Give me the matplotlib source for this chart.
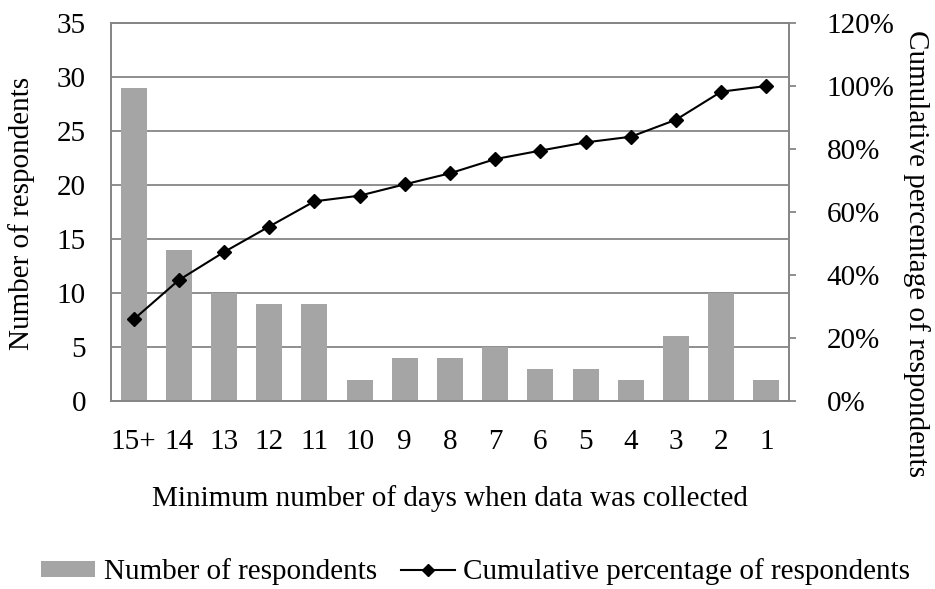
import numpy as np
import matplotlib.pyplot as plt
from matplotlib.ticker import MultipleLocator, PercentFormatter

plt.rcParams['font.family'] = ['Liberation Serif', 'DejaVu Serif']

days = ['15+', '14', '13', '12', '11', '10', '9', '8', '7', '6', '5', '4', '3', '2', '1']
respondents = [29, 14, 10, 9, 9, 2, 4, 4, 5, 3, 3, 2, 6, 10, 2]
cum_pct = [25.9, 38.4, 47.3, 55.4, 63.4, 65.2, 68.8, 72.3, 76.8, 79.5, 82.1, 83.9, 89.3, 98.2, 100.0]

grid_col = '#868686'
bar_col = '#A5A5A5'
fs = 21

fig = plt.figure(figsize=(9.35, 5.89), dpi=100)
ax = fig.add_axes([0.1187, 0.319, 0.7252, 0.642])
x = np.arange(len(days))

ax.bar(x, respondents, width=0.575, color=bar_col, zorder=2, label='Number of respondents')
ax.set_ylim(0, 35)
ax.set_xlim(-0.5, len(days) - 0.5)
ax.yaxis.set_major_locator(MultipleLocator(5))
ax.grid(axis='y', color=grid_col, lw=1.3, zorder=0)
ax.set_axisbelow(True)
ax.set_xticks(x)
ax.set_xticklabels(days)
ax.tick_params(axis='both', labelsize=fs, length=0)
ax.tick_params(axis='x', pad=20)
ax.tick_params(axis='y', pad=18)
ax.set_xlabel('Minimum number of days when data was collected', fontsize=fs, labelpad=22)
for s in ax.spines.values():
    s.set_color(grid_col)
    s.set_linewidth(1.3)

ax2 = ax.twinx()
ax2.plot(x, cum_pct, color='black', lw=1.5, marker='D', markersize=7.5,
         label='Cumulative percentage of respondents', zorder=3)
ax2.set_ylim(0, 120)
ax2.yaxis.set_major_locator(MultipleLocator(20))
ax2.yaxis.set_major_formatter(PercentFormatter(decimals=0))
ax2.tick_params(axis='y', labelsize=fs, direction='out', length=5, width=1.3,
                color=grid_col, pad=22)
for s in ax2.spines.values():
    s.set_color(grid_col)
    s.set_linewidth(1.3)

fig.text(0.0235, 0.638, 'Number of respondents', fontsize=fs, rotation=90,
         ha='center', va='center')
fig.text(0.980, 0.569, 'Cumulative percentage of respondents', fontsize=fs,
         rotation=-90, ha='center', va='center')

h1, l1 = ax.get_legend_handles_labels()
h2, l2 = ax2.get_legend_handles_labels()
fig.legend(h1 + h2, l1 + l2, loc='center', bbox_to_anchor=(0.509, 0.029), ncol=2,
           frameon=False, fontsize=fs, handlelength=1.85, handleheight=0.45,
           handletextpad=0.3, columnspacing=0.8, markerscale=0.8)

fig.savefig('out.png', dpi=100)
